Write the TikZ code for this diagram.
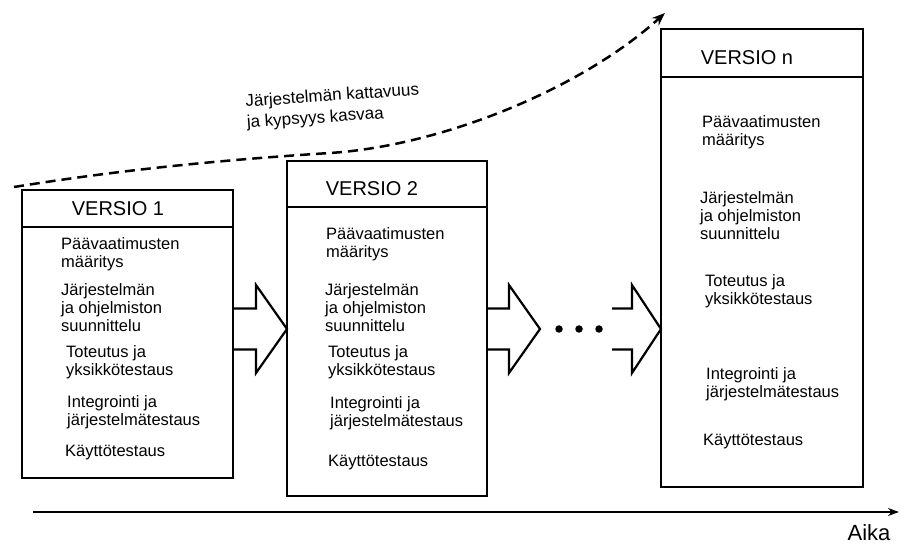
\documentclass[tikz,border=0pt]{standalone}
\usepackage{fontspec}
\setmainfont{Liberation Sans}
\usetikzlibrary{arrows.meta,calc}

\tikzset{
  verbox/.style={draw, line width=2.8pt, rectangle, anchor=north west, inner sep=0pt, outer sep=0pt},
  headline/.style={line width=2.8pt},
  vtitle/.style={font=\fontsize{20}{22}\selectfont, inner sep=0pt},
  phase/.style={font=\fontsize{16.5}{18}\selectfont, align=left, anchor=west, inner sep=0pt},
  harrow/.style={line width=2.2pt, line join=miter},
  dotmark/.style={circle, fill, inner sep=0pt, minimum size=7.5pt},
  growth/.style={line width=2.5pt, dash pattern=on 10pt off 6pt, -{Stealth[length=13pt,width=10pt]}},
  growthtext/.style={font=\fontsize{17}{21}\selectfont, align=left, inner sep=0pt},
  timeaxis/.style={line width=2.5pt, -{Stealth[length=11pt,width=8pt]}},
  axislabel/.style={font=\fontsize{22}{24}\selectfont, inner sep=0pt},
}

% open block arrow: #1 head length, #2 tail point, #3 tip point
\newcommand\hollowarrow[3][31]{%
  \draw[harrow] let \p1=#2, \p2=#3 in
    (\x1,\y2+20.5pt) -- (\x2-#1pt,\y2+20.5pt) -- (\x2-#1pt,\y2+44pt) -- (\x2,\y2)
    -- (\x2-#1pt,\y2-44pt) -- (\x2-#1pt,\y2-20.5pt) -- (\x1,\y2-20.5pt);
}

\begin{document}
\begin{tikzpicture}[x=1pt,y=-1pt]
\useasboundingbox (0,0) rectangle (906,545);

% version boxes
\node[verbox, minimum width=211pt, minimum height=288pt] (v1) at (22,190) {};
\node[verbox, minimum width=200pt, minimum height=335pt] (v2) at (287,161) {};
\node[verbox, minimum width=202pt, minimum height=458pt] (vn) at (661,29) {};

% header separators
\draw[headline] (v1.west |- 0,227) -- (v1.east |- 0,227);
\draw[headline] (v2.west |- 0,207) -- (v2.east |- 0,207);
\draw[headline] (vn.west |- 0,77) -- (vn.east |- 0,77);

% titles
\node[vtitle] (v1t) at (118,209) {VERSIO 1};
\node[vtitle] (v2t) at (372,189) {VERSIO 2};
\node[vtitle] (vnt) at (747,58) {VERSIO n};

% phases, version 1
\node[phase] (v1a) at (61,254.5) {Päävaatimusten\\määritys};
\node[phase] (v1b) at (61,308) {Järjestelmän\\ja ohjelmiston\\suunnittelu};
\node[phase] (v1c) at (66,362.5) {Toteutus ja\\yksikkötestaus};
\node[phase] (v1d) at (67,412.5) {Integrointi ja\\järjestelmätestaus};
\node[phase] (v1e) at (65,453) {Käyttötestaus};

% phases, version 2
\node[phase] (v2a) at (326,244) {Päävaatimusten\\määritys};
\node[phase] (v2b) at (325,307.5) {Järjestelmän\\ja ohjelmiston\\suunnittelu};
\node[phase] (v2c) at (328,362.5) {Toteutus ja\\yksikkötestaus};
\node[phase] (v2d) at (330,413) {Integrointi ja\\järjestelmätestaus};
\node[phase] (v2e) at (328,463) {Käyttötestaus};

% phases, version n
\node[phase] (vna) at (702,132.5) {Päävaatimusten\\määritys};
\node[phase] (vnb) at (700,216) {Järjestelmän\\ja ohjelmiston\\suunnittelu};
\node[phase] (vnc) at (705,291) {Toteutus ja\\yksikkötestaus};
\node[phase] (vnd) at (706,384) {Integrointi ja\\järjestelmätestaus};
\node[phase] (vne) at (703,442) {Käyttötestaus};

% block arrows between versions
\coordinate (a2tip) at (540,329);
\coordinate (a3tail) at (612,329);
\hollowarrow{(v1.east |- 0,329)}{(v2.west |- 0,329)}
\hollowarrow{(v2.east |- 0,329)}{(a2tip)}
\hollowarrow[29]{(a3tail)}{(vn.west |- 0,329)}

% ellipsis
\node[dotmark] (d1) at (559,329) {};
\node[dotmark] (d2) at (579,329) {};
\node[dotmark] (d3) at (599,329) {};

% growth curve
\coordinate (g0) at (14,187);
\coordinate (gm) at (330,153);
\coordinate (g1) at (665,13);
\draw[growth] (g0) .. controls (120,170) and (220,160) .. (gm)
  .. controls (440,146) and (580,90) .. (g1);
\node[growthtext, rotate=4] (glabel) at (333,107) {Järjestelmän kattavuus\\ja kypsyys kasvaa};

% time axis
\coordinate (t0) at (33,512);
\coordinate (t1) at (899,512);
\draw[timeaxis] (t0) -- (t1);
\node[axislabel] (aika) at (869,533) {Aika};
\end{tikzpicture}
\end{document}
